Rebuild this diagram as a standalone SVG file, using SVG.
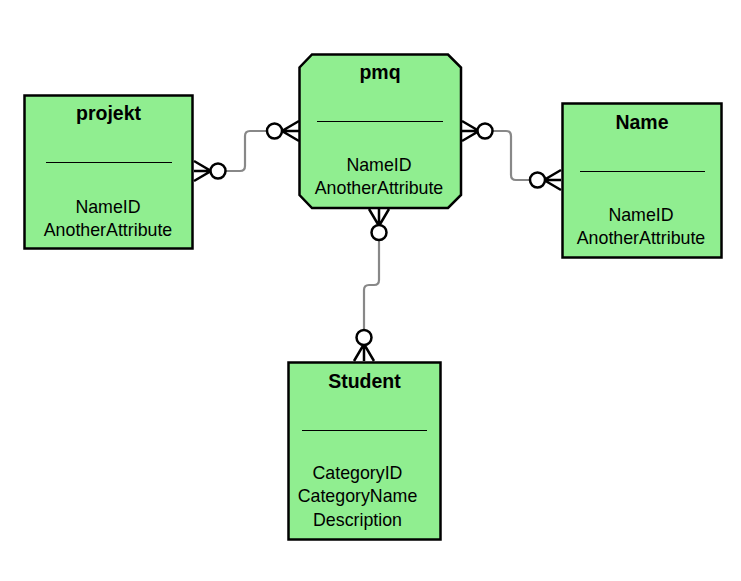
<svg xmlns="http://www.w3.org/2000/svg" width="741" height="581" viewBox="0 0 741 581">
<style>
.ent{fill:#90EE90;stroke:#000;stroke-width:2.5}
.sep{stroke:#000;stroke-width:1.2}
.t{font-family:"Liberation Sans",Arial,sans-serif;font-size:19.5px;font-weight:bold;text-anchor:middle;fill:#000}
.a{font-family:"Liberation Sans",Arial,sans-serif;font-size:17.8px;text-anchor:middle;fill:#000}
.ln{fill:none;stroke:#888;stroke-width:2.2}
.cf{fill:none;stroke:#000;stroke-width:2.5}
.c{fill:#fff;stroke:#000;stroke-width:2.5}
</style>
<rect width="741" height="581" fill="#fff"/>
<g id="connectors">
<path class="ln" d="M225,171 H240 Q245,171 245,166 V136 Q245,131 250,131 H266"/>
<path class="cf" d="M194,161 L211,171 L194,181 M194,171 H211"/>
<circle class="c" cx="218" cy="171" r="7.5"/>
<path class="cf" d="M299,121 L282,131 L299,141 M299,131 H282"/>
<circle class="c" cx="274.5" cy="131" r="7.5"/>
<path class="ln" d="M491,131 H506 Q511,131 511,136 V175 Q511,180 516,180 H530"/>
<path class="cf" d="M462,121 L479,131 L462,141 M462,131 H479"/>
<circle class="c" cx="485" cy="131" r="7.5"/>
<path class="cf" d="M561,170 L544,180 L561,190 M561,180 H544"/>
<circle class="c" cx="537.5" cy="180" r="7.5"/>
<path class="ln" d="M379,240 V280 Q379,285 374,285 H369 Q364,285 364,290 V330"/>
<path class="cf" d="M369,209 L379,226 L389,209 M379,209 V226"/>
<circle class="c" cx="379" cy="232.5" r="7.5"/>
<path class="cf" d="M354,361 L364,344 L374,361 M364,361 V344"/>
<circle class="c" cx="364" cy="337.5" r="7.5"/>
</g>
<g id="projekt">
<rect class="ent" x="24.5" y="95.5" width="168" height="153"/>
<text class="t" x="108.5" y="120">projekt</text>
<line class="sep" x1="46" y1="162.5" x2="172" y2="162.5"/>
<text class="a" x="108" y="213">NameID</text>
<text class="a" x="108" y="236">AnotherAttribute</text>
</g>
<g id="pmq">
<path class="ent" d="M312,54.5 H448 L461,67.5 V195 L448,208 H312 L299.5,195 V67.5 Z"/>
<text class="t" x="380" y="79">pmq</text>
<line class="sep" x1="317" y1="121.5" x2="443" y2="121.5"/>
<text class="a" x="379" y="171">NameID</text>
<text class="a" x="379" y="194">AnotherAttribute</text>
</g>
<g id="Name">
<rect class="ent" x="562.5" y="103.5" width="159" height="154"/>
<text class="t" x="642" y="129">Name</text>
<line class="sep" x1="580" y1="171.5" x2="705" y2="171.5"/>
<text class="a" x="641" y="221">NameID</text>
<text class="a" x="641" y="244">AnotherAttribute</text>
</g>
<g id="Student">
<rect class="ent" x="288.5" y="362.5" width="152" height="177"/>
<text class="t" x="364.5" y="388">Student</text>
<line class="sep" x1="302" y1="430.5" x2="427" y2="430.5"/>
<text class="a" x="357.5" y="479">CategoryID</text>
<text class="a" x="357.5" y="502">CategoryName</text>
<text class="a" x="357.5" y="526">Description</text>
</g>
</svg>
